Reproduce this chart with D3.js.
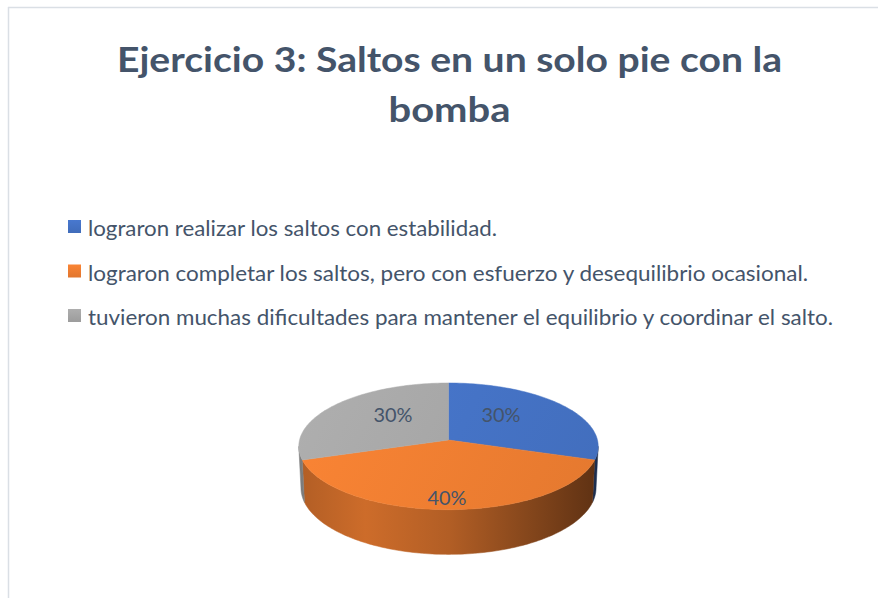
<!DOCTYPE html>
<html>
<head>
<meta charset="utf-8">
<script src="https://cdn.jsdelivr.net/npm/d3@7"></script>
<style>
  body { margin: 0; background: #fff; }
  svg { display: block; }
</style>
</head>
<body>
<div id="chart"></div>
<script>
// Chart data
const titleLines = ["Ejercicio 3: Saltos en un solo pie con la", "bomba"];
const categories = [
  "lograron realizar los saltos con estabilidad.",
  "lograron completar los saltos, pero con esfuerzo y desequilibrio ocasional.",
  "tuvieron muchas dificultades para mantener el equilibrio y coordinar el salto."
];
const values = [30, 40, 30];

// Styling (not data)
const topColors = ["#4472C4", "#ED7D31", "#A5A5A5"];
const textColor = "#44546A";

const w = 878;
const h = 598;

const svg = d3.select("#chart")
  .append("svg")
  .attr("width", w)
  .attr("height", h);

const defs = svg.append("defs");

// Chart frame (only top and left edges visible)
svg.append("line")
  .attr("x1", 8).attr("y1", 7.5).attr("x2", w).attr("y2", 7.5)
  .attr("stroke", "#dadfe5").attr("stroke-width", 1.5);
svg.append("line")
  .attr("x1", 8.5).attr("y1", 7).attr("x2", 8.5).attr("y2", h)
  .attr("stroke", "#dadfe5").attr("stroke-width", 1.5);

// Title
const titleWidths = [665, 122];
svg.append("g")
  .selectAll("text")
  .data(titleLines)
  .enter()
  .append("text")
  .attr("x", 449.5)
  .attr("y", (d, i) => 72 + i * 50)
  .attr("text-anchor", "middle")
  .attr("font-family", "Lato, 'Open Sans', sans-serif")
  .attr("font-weight", "bold")
  .attr("font-size", 35)
  .attr("fill", textColor)
  .attr("textLength", (d, i) => titleWidths[i])
  .attr("lengthAdjust", "spacingAndGlyphs")
  .text(d => d);

// Legend
const legendWidths = [409, 720, 745];
const legend = svg.append("g").attr("transform", "translate(68, 220)");
const legendItems = legend.selectAll("g")
  .data(categories)
  .enter()
  .append("g")
  .attr("transform", (d, i) => `translate(0, ${i * 44.5})`);

categories.forEach((c, i) => {
  const g = defs.append("linearGradient")
    .attr("id", "leg" + i)
    .attr("x1", 0).attr("y1", 0).attr("x2", 0).attr("y2", 1);
  const base = d3.color(topColors[i]);
  g.append("stop").attr("offset", "0%").attr("stop-color", base.brighter(0.15));
  g.append("stop").attr("offset", "100%").attr("stop-color", base.darker(0.15));
});

legendItems.append("rect")
  .attr("x", 0).attr("y", 0)
  .attr("width", 13).attr("height", 13)
  .attr("fill", (d, i) => `url(#leg${i})`);

legendItems.append("text")
  .attr("x", 20)
  .attr("y", 16)
  .attr("font-family", "Lato, 'Open Sans', sans-serif")
  .attr("font-size", 20.5)
  .attr("fill", textColor)
  .attr("textLength", (d, i) => legendWidths[i])
  .attr("lengthAdjust", "spacingAndGlyphs")
  .text(d => d);

// 3D pie with a simple perspective projection
const cx = 448.5, cy = 440;
const phi = Math.asin(0.421);
const camD = 9.07, focal = 1351, depth = 0.31;

function project(theta, Y, r = 1) {
  const X = r * Math.sin(theta);
  const Z = r * Math.cos(theta);
  const u = Z * Math.sin(phi) + Y * Math.cos(phi);
  const d = camD + Z * Math.cos(phi) - Y * Math.sin(phi);
  return [cx + focal * X / d, cy - focal * u / d];
}

const pie = d3.pie().sort(null).value(d => d);
const arcs = pie(values);

function rimPoints(a0, a1, Y) {
  const n = Math.max(2, Math.ceil((a1 - a0) / 0.02));
  const pts = [];
  for (let k = 0; k <= n; k++) pts.push(project(a0 + (a1 - a0) * k / n, Y));
  return pts;
}

const line = d3.line();

// Side wall + top face gradients
arcs.forEach((a, i) => {
  const base = d3.color(topColors[i]);
  const g = defs.append("linearGradient")
    .attr("id", "side" + i)
    .attr("gradientUnits", "userSpaceOnUse")
    .attr("x1", 300).attr("y1", 0).attr("x2", 598).attr("y2", 0);
  g.append("stop").attr("offset", "0%").attr("stop-color", base.darker(0.8));
  g.append("stop").attr("offset", "22%").attr("stop-color", base.darker(0.4));
  g.append("stop").attr("offset", "50%").attr("stop-color", base.darker(0.8));
  g.append("stop").attr("offset", "76%").attr("stop-color", base.darker(1.6));
  g.append("stop").attr("offset", "100%").attr("stop-color", base.darker(2.6));

  const t = defs.append("linearGradient")
    .attr("id", "top" + i)
    .attr("gradientUnits", "userSpaceOnUse")
    .attr("x1", 320).attr("y1", 383).attr("x2", 580).attr("y2", 515);
  t.append("stop").attr("offset", "0%").attr("stop-color", base.brighter(0.15));
  t.append("stop").attr("offset", "100%").attr("stop-color", base.darker(0.1));
});

// Visible wall range (silhouette angles)
const visA0 = Math.acos(-Math.cos(phi) / camD);
const visA1 = 2 * Math.PI - visA0;

const walls = svg.append("g");
arcs.forEach((a, i) => {
  const s = Math.max(a.startAngle, visA0);
  const e = Math.min(a.endAngle, visA1);
  if (e <= s) return;
  const pts = rimPoints(s, e, 0).concat(rimPoints(s, e, -depth).reverse());
  walls.append("path")
    .attr("d", line(pts) + "Z")
    .attr("fill", `url(#side${i})`)
    .attr("stroke", `url(#side${i})`)
    .attr("stroke-width", 0.5);
});

// Top faces
const tops = svg.append("g");
arcs.forEach((a, i) => {
  const pts = [[cx, cy]].concat(rimPoints(a.startAngle, a.endAngle, 0));
  tops.append("path")
    .attr("d", line(pts) + "Z")
    .attr("fill", `url(#top${i})`)
    .attr("stroke", `url(#top${i})`)
    .attr("stroke-width", 0.5);
});

// Data labels on a label ellipse
const labelCx = 447, labelCy = 445.7, labelRx = 66.7, labelRy = 52.3;
const pct = d3.format(".0%");
const total = d3.sum(values);
svg.append("g")
  .selectAll("text")
  .data(arcs)
  .enter()
  .append("text")
  .attr("x", d => labelCx + labelRx * Math.sin((d.startAngle + d.endAngle) / 2))
  .attr("y", d => labelCy - labelRy * Math.cos((d.startAngle + d.endAngle) / 2) + 7)
  .attr("text-anchor", "middle")
  .attr("font-family", "Lato, 'Open Sans', sans-serif")
  .attr("font-size", 19.5)
  .attr("fill", textColor)
  .attr("textLength", 39)
  .attr("lengthAdjust", "spacingAndGlyphs")
  .text(d => pct(d.value / total));
</script>
</body>
</html>
